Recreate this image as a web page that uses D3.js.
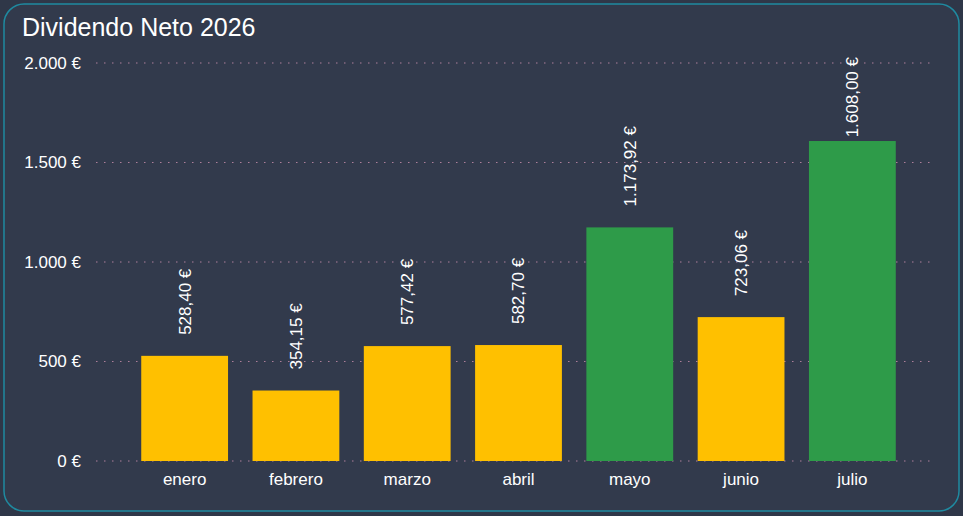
<!DOCTYPE html>
<html>
<head>
<meta charset="utf-8">
<script src="https://cdn.jsdelivr.net/npm/d3@7"></script>
<style>
  html, body { margin: 0; padding: 0; background: #ffffff; }
  svg { display: block; font-family: "Liberation Sans", Arial, sans-serif; }
</style>
</head>
<body>
<div id="chart"></div>
<script>
// Data
var months = ["enero", "febrero", "marzo", "abril", "mayo", "junio", "julio"]
var dividends = [528.40, 354.15, 577.42, 582.70, 1173.92, 723.06, 1608.00]
var yTicks = [0, 500, 1000, 1500, 2000]
var chartTitle = "Dividendo Neto 2026"

const W = 963, H = 516
const margin = {top: 63, right: 25, bottom: 55, left: 96}
const width = W - margin.left - margin.right,
    height = H - margin.top - margin.bottom

// spanish number format: 1.173,92 €
function euro(v, dec) {
  var s = v.toFixed(dec).split(".")
  var intPart = s[0].replace(/\B(?=(\d{3})+(?!\d))/g, ".")
  return intPart + (dec > 0 ? "," + s[1] : "") + " €"
}

var svg = d3.select("#chart")
  .append("svg")
  .attr("width", W)
  .attr("height", H)

// card background
svg.append("rect")
  .attr("width", W).attr("height", H)
  .attr("fill", "#2f3748")
svg.append("rect")
  .attr("x", 4).attr("y", 4)
  .attr("width", W - 8).attr("height", H - 9)
  .attr("rx", 20).attr("ry", 20)
  .attr("fill", "#323a4c")
  .attr("stroke", "#1f8aa0")
  .attr("stroke-width", 1.5)

svg.append("text")
  .attr("x", 22)
  .attr("y", 36)
  .attr("fill", "#ffffff")
  .style("font-size", "25px")
  .text(chartTitle)

var g = svg.append("g")
  .attr("transform", "translate(" + margin.left + "," + margin.top + ")")

var y = d3.scaleLinear()
  .domain([0, 2000])
  .range([height, 0])

var x = d3.scaleBand()
  .domain(months)
  .range([33, 812])
  .paddingInner(0.22)
  .paddingOuter(0.11)

// grid lines
g.selectAll(".grid")
  .data(yTicks)
  .enter()
  .append("line")
  .attr("class", "grid")
  .attr("x1", 0)
  .attr("x2", width - 2)
  .attr("y1", d => y(d))
  .attr("y2", d => y(d))
  .attr("stroke", "#ad7f9a")
  .attr("stroke-width", 1.2)
  .attr("stroke-dasharray", "1.5,6.5")

// y axis
var yAxis = g.append("g")
  .call(d3.axisLeft(y).tickValues(yTicks).tickSize(0).tickPadding(15)
    .tickFormat(d => euro(d, 0)))
yAxis.select(".domain").remove()
yAxis.selectAll("text")
  .attr("fill", "#ffffff")
  .style("font-size", "17px")
  .style("font-family", "Liberation Sans, Arial, sans-serif")

// bars
g.selectAll(".bar")
  .data(dividends)
  .enter()
  .append("rect")
  .attr("class", "bar")
  .attr("x", (d, i) => x(months[i]))
  .attr("width", x.bandwidth())
  .attr("y", d => y(d))
  .attr("height", d => height - y(d))
  .attr("fill", d => d > 1000 ? "#2e9b49" : "#ffc000")

// x axis
var xAxis = g.append("g")
  .attr("transform", "translate(0," + height + ")")
  .call(d3.axisBottom(x).tickSize(0).tickPadding(12))
xAxis.select(".domain").remove()
xAxis.selectAll("text")
  .attr("fill", "#ffffff")
  .style("font-size", "17px")
  .style("font-family", "Liberation Sans, Arial, sans-serif")

// value labels, rotated
var labels = g.selectAll(".val")
  .data(dividends)
  .enter()
  .append("text")
  .attr("class", "val")
  .attr("fill", "#ffffff")
  .style("font-size", "17px")
  .attr("text-anchor", "start")
  .attr("dy", "0.35em")
  .text(d => euro(d, 2))

labels.each(function(d, i) {
  var len = this.getComputedTextLength()
  var cx = x(months[i]) + x.bandwidth() / 2
  var start = y(d) - 21
  if (start - len < -6) start = len - 6
  d3.select(this)
    .attr("transform", "translate(" + cx + "," + start + ") rotate(-90)")
})
</script>
</body>
</html>
